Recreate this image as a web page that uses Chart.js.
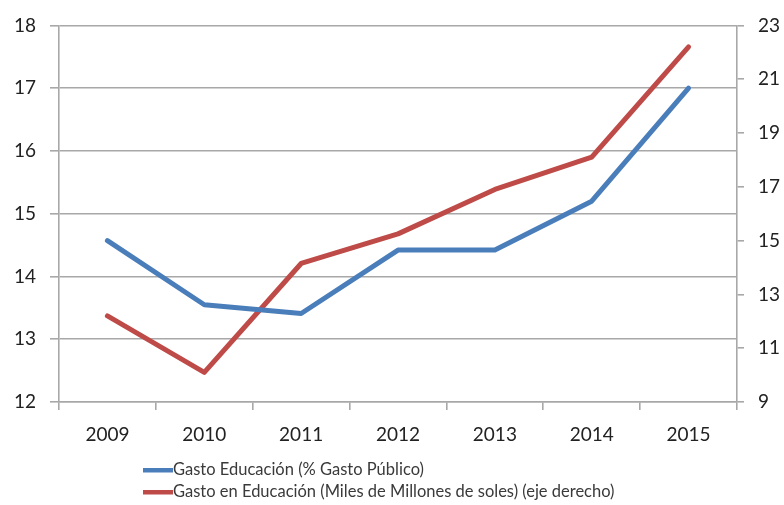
<!DOCTYPE html>
<html>
<head>
<meta charset="utf-8">
<script src="https://cdn.jsdelivr.net/npm/chart.js@4/dist/chart.umd.min.js"></script>
<style>
  html, body { margin: 0; padding: 0; background: #fff; }
  #wrap { width: 784px; height: 505px; position: relative; }
</style>
</head>
<body>
<div id="wrap"><canvas id="c" width="784" height="505"></canvas></div>
<script>
// Años
const years = ['2009', '2010', '2011', '2012', '2013', '2014', '2015'];
// Gasto en educación como % del gasto público (eje izquierdo)
const gastoPct = [14.57, 13.55, 13.41, 14.42, 14.42, 15.2, 17.0];
// Gasto en educación en miles de millones de soles (eje derecho)
const gastoSoles = [12.2, 10.1, 14.15, 15.25, 16.9, 18.1, 22.2];

const seriesNames = [
  'Gasto Educación (% Gasto Público)',
  'Gasto en Educación (Miles de Millones de soles) (eje derecho)'
];

const BLUE = '#4A7EBB';
const RED = '#BE4B48';
const GRID = '#a8a8a8';
const TEXT = '#222222';
const FONT = 'Lato, "Open Sans", sans-serif';

// Leyenda en dos filas, alineada a la izquierda bajo el gráfico
const bottomLegend = {
  id: 'bottomLegend',
  afterDraw(chart) {
    const ctx = chart.ctx;
    const x0 = 143, rows = [470, 492];
    ctx.save();
    ctx.font = '16.5px ' + FONT;
    ctx.textBaseline = 'middle';
    chart.data.datasets.forEach((ds, i) => {
      const y = rows[i];
      ctx.fillStyle = ds.borderColor;
      ctx.fillRect(x0, y - 2, 30, 4.5);
      ctx.fillStyle = '#3a3a3a';
      ctx.fillText(ds.label, x0 + 30, y);
    });
    ctx.restore();
  }
};

new Chart(document.getElementById('c'), {
  type: 'line',
  data: {
    labels: years,
    datasets: [
      {
        label: seriesNames[0],
        data: gastoPct,
        yAxisID: 'y',
        borderColor: BLUE,
        backgroundColor: BLUE,
        borderWidth: 5,
        pointRadius: 0,
        tension: 0,
        borderJoinStyle: 'round',
        borderCapStyle: 'round'
      },
      {
        label: seriesNames[1],
        data: gastoSoles,
        yAxisID: 'y1',
        borderColor: RED,
        backgroundColor: RED,
        borderWidth: 5,
        pointRadius: 0,
        tension: 0,
        borderJoinStyle: 'round',
        borderCapStyle: 'round'
      }
    ]
  },
  options: {
    responsive: false,
    animation: false,
    layout: { padding: { top: 24, left: 0, right: 0, bottom: 0 } },
    plugins: {
      legend: { display: false },
      tooltip: { enabled: false }
    },
    scales: {
      x: {
        offset: true,
        grid: {
          offset: true,
          drawOnChartArea: false,
          drawTicks: true,
          tickLength: 8,
          color: GRID,
          lineWidth: 1.6
        },
        border: { display: true, color: GRID, width: 1.6 },
        ticks: { color: TEXT, font: { family: FONT, size: 19 }, padding: 13 },
        afterFit(scale) { scale.height = 103; }
      },
      y: {
        position: 'left',
        min: 12,
        max: 18,
        ticks: { stepSize: 1, color: TEXT, font: { family: FONT, size: 19 }, padding: 14 },
        grid: { color: GRID, lineWidth: 1.6, tickLength: 9 },
        border: { display: true, color: GRID, width: 1.6 },
        afterFit(scale) { scale.width = 59; }
      },
      y1: {
        position: 'right',
        min: 9,
        max: 23,
        ticks: { stepSize: 2, color: TEXT, font: { family: FONT, size: 19 }, padding: 14 },
        grid: { drawOnChartArea: false, color: GRID, lineWidth: 1.6, tickLength: 7 },
        border: { display: true, color: GRID, width: 1.6 },
        afterFit(scale) { scale.width = 47; }
      }
    }
  },
  plugins: [bottomLegend]
});
</script>
</body>
</html>
